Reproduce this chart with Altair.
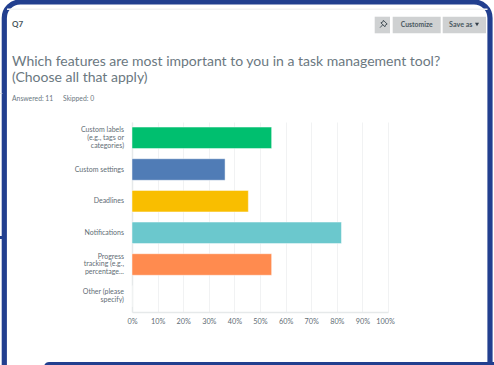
import altair as alt
import pandas as pd

# Survey results
features = [
    "Custom labels\n(e.g., tags or\ncategories)",
    "Custom settings",
    "Deadlines",
    "Notifications",
    "Progress\ntracking (e.g.,\npercentage...",
    "Other (please\nspecify)",
]
shares = [54.55, 36.36, 45.45, 81.82, 54.55, 0]
bar_colors = ["#00BF6F", "#507CB6", "#F9BE00", "#6BC8CD", "#FF8B4F", "#7D5E90"]
percent_ticks = list(range(0, 101, 10))

FONT = "Lato"
LEFT, TOP, PLOT_W, PLOT_H = 132, 122, 256, 190
W, H = 494, 365
LINE_H = 7.7

bars_df = pd.DataFrame({"feature": features, "share": shares, "color": bar_colors})

bars = (
    alt.Chart(bars_df)
    .mark_bar(stroke="#FFFFFF", strokeWidth=0.8, strokeOpacity=0.6)
    .encode(
        x=alt.X(
            "share:Q",
            scale=alt.Scale(domain=[0, 100], nice=False),
            axis=alt.Axis(
                values=percent_ticks,
                labelExpr="datum.value + '%'",
                title=None,
                domainColor="#E6E9EA",
                domainWidth=1.5,
                ticks=False,
                labelPadding=5,
                labelFont=FONT,
                labelFontSize=7.3,
                labelColor="#5F6D75",
                gridColor="#F1F2F3",
                gridWidth=1,
                labelOverlap=False,
                labelFlush=False,
                # The last label is nudged inward so it clears its neighbour
                labelOffset={
                    "condition": {"test": "datum.value == 100", "value": -3},
                    "value": 0,
                },
            ),
        ),
        y=alt.Y(
            "feature:N",
            sort=features,
            scale=alt.Scale(paddingInner=0.32, paddingOuter=0.16),
            axis=alt.Axis(
                title=None,
                domainColor="#E6E9EA",
                domainWidth=1.5,
                ticks=False,
                grid=False,
                labelPadding=8.5,
                labelFont=FONT,
                labelFontSize=7,
                labelColor="#5F6D75",
                labelLineHeight=LINE_H,
                labelExpr="split(datum.label, '\\n')",
                # Vega anchors wrapped labels on their first line, so lift them to centre on the band
                labelOffset={
                    "condition": [
                        {"test": "length(split(datum.value, '\\n')) == 3", "value": -LINE_H},
                        {"test": "length(split(datum.value, '\\n')) == 2", "value": -LINE_H / 2},
                    ],
                    "value": 0,
                },
            ),
        ),
        color=alt.Color("color:N", scale=None, legend=None),
    )
)

one_row = pd.DataFrame({"k": [0]})


# Card frame and toolbar, positioned in pixels relative to the plot area
def box(x0, y0, x1, y1, **mark):
    return (
        alt.Chart(one_row)
        .mark_rect(**mark)
        .encode(
            x=alt.value(x0 - LEFT),
            x2=alt.value(x1 - LEFT),
            y=alt.value(y0 - TOP),
            y2=alt.value(y1 - TOP),
        )
    )


def label(x, y, text, size, color="#6B787F", align="left", weight="normal"):
    return (
        alt.Chart(pd.DataFrame({"t": [text]}))
        .mark_text(
            font=FONT, fontSize=size, color=color, align=align,
            baseline="middle", fontWeight=weight,
        )
        .encode(x=alt.value(x - LEFT), y=alt.value(y - TOP), text="t:N")
    )


def glyph(x, y, **mark):
    return (
        alt.Chart(one_row)
        .mark_point(**mark)
        .encode(x=alt.value(x - LEFT), y=alt.value(y - TOP))
    )


NAVY = "#223F8F"
frame = box(4.3, 2, 490, 400, filled=False, stroke=NAVY, strokeWidth=5.2, cornerRadius=16)
top_line = box(7, 8.5, 487.5, 10, color="#F1F2F3")
bottom_band = box(44, 362, 500, 372, color=NAVY, cornerRadius=6)
left_stub = box(0, 236, 2.5, 239, color=NAVY)
left_hair = box(0, 93, 2.5, 93.7, color="#D0D2D3")

pin_btn = box(374.7, 16.7, 390, 33.3, color="#CFD1D2")
customize_btn = box(392.7, 16.7, 440.7, 33.3, color="#CFD1D2")
save_btn = box(442.7, 16.7, 486, 33.3, color="#CFD1D2")

PIN_PATH = (
    "M 0.1 -1 L 1 -0.1 L 0.6 0.1 L 0.45 0.55 L -0.5 -0.4 L -0.05 -0.6 Z "
    "M -0.05 0.05 L -0.7 0.75"
)
pin = glyph(383, 24.5, shape=PIN_PATH, size=70, filled=False, stroke="#39454D", strokeWidth=0.9, opacity=1)
arrow = glyph(477, 24.5, shape="triangle-down", size=16, filled=True, fill="#333E48", stroke=None, opacity=1)

texts = [
    label(12, 25, "Q7", 8, "#4A5860", weight="bold"),
    label(416.7, 25, "Customize", 6.8, "#4A5860", "center", "bold"),
    label(449, 25, "Save as", 7.2, "#4A5860", weight="bold"),
    label(12, 62, "Which features are most important to you in a task management tool?", 14.0),
    label(12, 78, "(Choose all that apply)", 14.0),
    label(12, 98.5, "Answered: 11", 6.8),
    label(63, 98.5, "Skipped: 0", 6.8),
]

chart = alt.layer(
    frame, top_line, bottom_band, left_stub, left_hair,
    pin_btn, customize_btn, save_btn, pin, arrow, *texts, bars,
).properties(
    width=PLOT_W,
    height=PLOT_H,
    padding={"left": LEFT, "top": TOP, "right": W - LEFT - PLOT_W, "bottom": H - TOP - PLOT_H},
    autosize=alt.AutoSizeParams(type="none"),
    background="#FFFFFF",
).configure_view(stroke=None)

chart.save("out.html", embed_options={"renderer": "svg", "actions": False})
